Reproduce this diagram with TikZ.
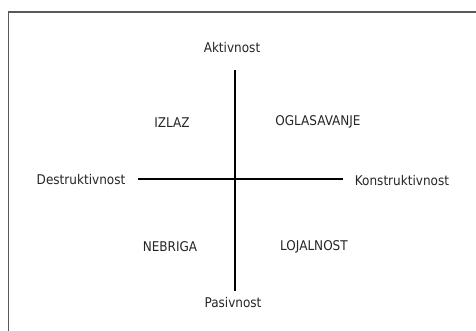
\documentclass[tikz,border=0pt]{standalone}
\usepackage{fontspec}
\setmainfont{DejaVu Sans Condensed}
\begin{document}
\begin{tikzpicture}[x=1pt,y=-1pt,
  lbl/.style={inner sep=0pt,font=\fontsize{13.4}{15}\selectfont,text=black!85},
  axis/.style={line width=1.6pt,black}]
\useasboundingbox (0,0) rectangle (476,331);
\fill[white] (0,0) rectangle (476,331);
\draw[line width=1.5pt,black!65] (8.5,400) -- (8.5,12) -- (500,12);
\node[lbl] (akt) at (232,48) {Aktivnost};
\node[lbl] (pas) at (233,303) {Pasivnost};
\node[lbl] (des) at (81,180) {Destruktivnost};
\node[lbl] (kon) at (402,181) {Konstruktivnost};
\node[lbl] (izl) at (172,123) {IZLAZ};
\node[lbl] (ogl) at (318,122) {OGLASAVANJE};
\node[lbl] (neb) at (170,247) {NEBRIGA};
\node[lbl] (loj) at (314,247) {LOJALNOST};
\coordinate (vt) at (235,70);
\coordinate (vb) at (235,291);
\coordinate (hl) at (138,179);
\coordinate (hr) at (343,179);
\draw[axis] (vt) -- (vb);
\draw[axis] (hl) -- (hr);
\end{tikzpicture}
\end{document}
